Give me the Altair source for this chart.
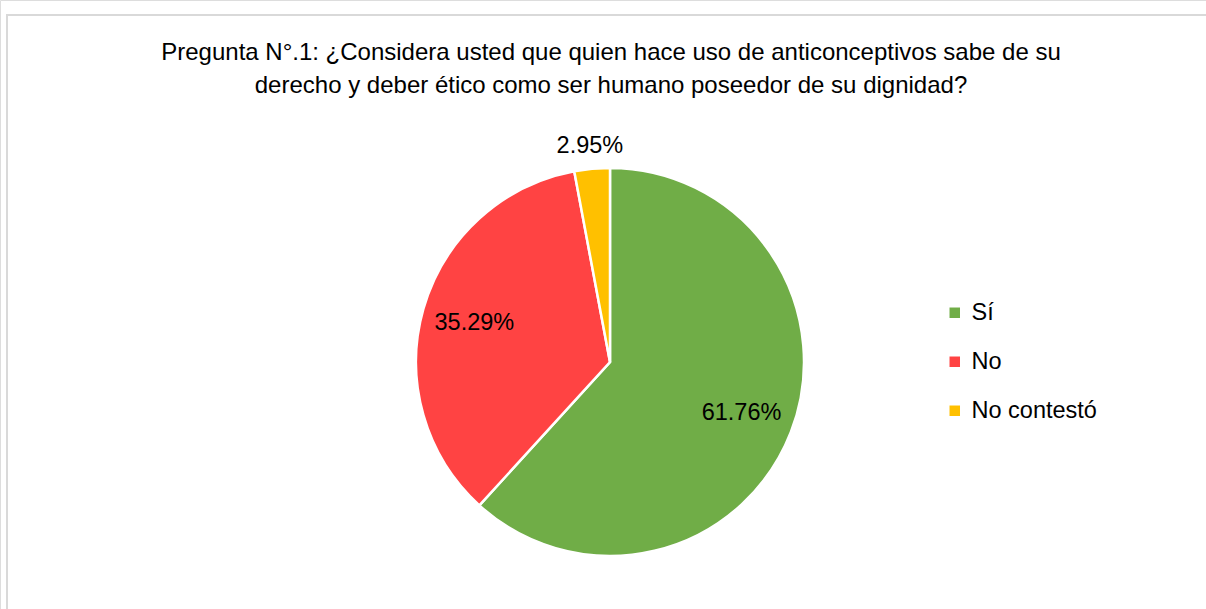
import altair as alt
import pandas as pd

categories = ["Sí", "No", "No contestó"]
percentages = [61.76, 35.29, 2.95]
colors = ["#70AD47", "#FF4343", "#FFC000"]
title_lines = [
    "Pregunta N°.1: ¿Considera usted que quien hace uso de anticonceptivos sabe de su",
    "derecho y deber ético como ser humano poseedor de su dignidad?",
]

df = pd.DataFrame({"cat": categories, "pct": percentages, "order": [0, 1, 2]})

FONT = "Liberation Sans"
FS = 23.5
TFS = 24
CX, CY = 610, 362

base = alt.Chart(df).encode(
    theta=alt.Theta("pct:Q", stack=True),
    order=alt.Order("order:Q"),
)

arc = base.mark_arc(outerRadius=194, stroke="white", strokeWidth=2.5).encode(
    color=alt.Color(
        "cat:N",
        scale=alt.Scale(domain=categories, range=colors),
        sort=categories,
        legend=alt.Legend(
            title=None,
            orient="none",
            legendX=943,
            legendY=301,
            symbolType="square",
            symbolSize=110,
            symbolStrokeWidth=0,
            labelFontSize=FS,
            labelFont=FONT,
            labelColor="#000000",
            rowPadding=24,
            labelOffset=5,
        ),
    ),
    x=alt.value(CX),
    y=alt.value(CY),
)

inner = base.transform_calculate(
    lab="datum.pct >= 10 ? format(datum.pct, '.2f') + '%' : ''"
).mark_text(radius=141, fontSize=FS, font=FONT, color="#000000").encode(
    text="lab:N", x=alt.value(CX), y=alt.value(CY)
)

outer = base.transform_calculate(
    lab="datum.pct < 10 ? format(datum.pct, '.2f') + '%' : ''"
).mark_text(radius=217, fontSize=FS, font=FONT, color="#000000").encode(
    text="lab:N", x=alt.value(CX), y=alt.value(CY)
)

frame = alt.Chart(pd.DataFrame({"a": [0]})).mark_rect(
    fill=None, stroke="#D9D9D9", strokeWidth=2, clip=False
).encode(
    x=alt.value(7), x2=alt.value(1260), y=alt.value(15), y2=alt.value(700)
)

title_df = pd.DataFrame({"line": title_lines, "row": [0, 1]})
title = alt.Chart(title_df).transform_calculate(
    ty="53 + datum.row * 33"
).mark_text(fontSize=TFS, font=FONT, color="#000000", baseline="middle", align="center").encode(
    text="line:N",
    x=alt.value(611),
    y=alt.Y("ty:Q", scale=None, axis=None),
)

chart = alt.layer(frame, arc, inner, outer, title).properties(
    width=1206,
    height=609,
    padding=0,
    autosize=alt.AutoSizeParams(type="none"),
).configure_view(stroke="transparent").configure(background="white")

chart.save("out.html", embed_options={"renderer": "svg", "actions": False})
